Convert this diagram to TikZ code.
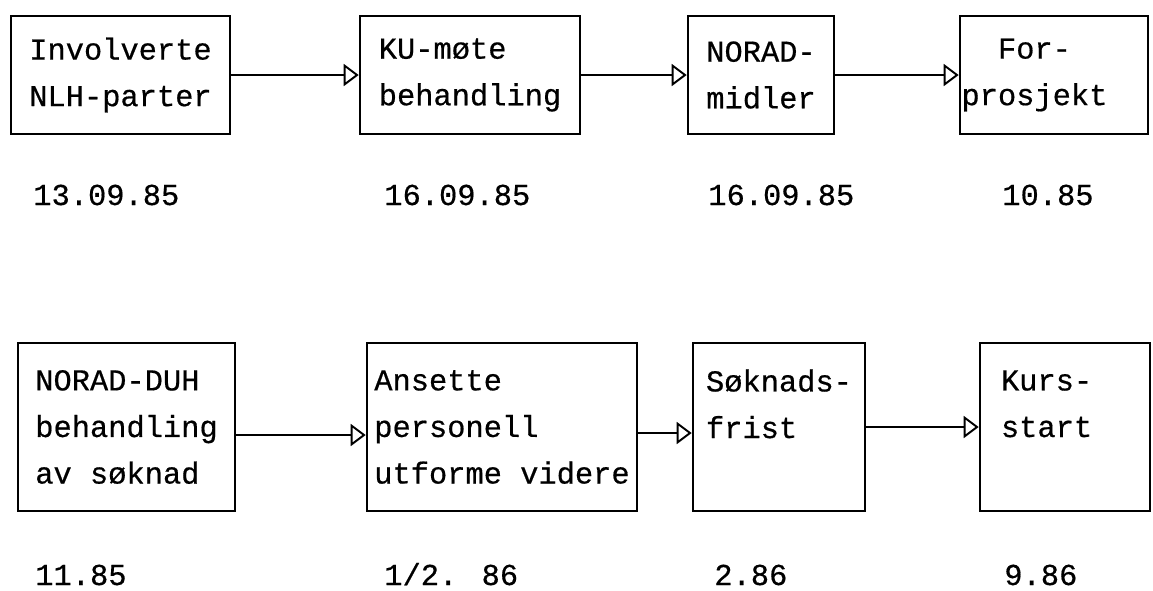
\documentclass[tikz,border=0pt]{standalone}
\usepackage{fontspec}
\newfontfamily\typer{Liberation Mono}[FakeBold=0.5]
\usepackage{tikz}
\usetikzlibrary{arrows.meta}

\begin{document}
\begin{tikzpicture}[
		planbox/.style={shape=rectangle,draw=black,line width=1.5pt,inner sep=0pt,align=left,font=\typer\fontsize{17.3}{26.5}\selectfont},
		datetext/.style={anchor=base west,inner sep=0pt,font=\typer\fontsize{17.3}{26.5}\selectfont},
		flow/.style={line width=1pt,-{Triangle[open,length=0.3cm,width=0.44cm,line width=1.1pt]}}]
		\useasboundingbox (0,0) rectangle (23.06,-11.8);
		% first row
		\node [planbox,minimum width=4.38cm,minimum height=2.36cm] (A1) at (2.41,-1.5) {Involverte\\NLH-parter};
		\node [planbox,minimum width=4.4cm,minimum height=2.36cm] (A2) at (9.4,-1.5) {KU-møte\\behandling};
		\node [planbox,minimum width=2.92cm,minimum height=2.36cm] (A3) at (15.22,-1.5) {NORAD-\\midler};
		\node [planbox,minimum width=3.76cm,minimum height=2.36cm,text width=3.7cm] (A4) at (21.08,-1.5) {\phantom{pr}For-\\prosjekt};
		\draw [flow] (A1) -- (A2);
		\draw [flow] (A2) -- (A3);
		\draw [flow] (A3) -- (A4);
		\node [datetext] (D1) at (0.66,-4.1) {13.09.85};
		\node [datetext] (D2) at (7.68,-4.1) {16.09.85};
		\node [datetext] (D3) at (14.16,-4.1) {16.09.85};
		\node [datetext] (D4) at (20.04,-4.1) {10.85};
		% second row
		\node [planbox,minimum width=4.34cm,minimum height=3.36cm] (B1) at (2.53,-8.54) {NORAD-DUH\\behandling\\av søknad};
		\node [planbox,minimum width=5.4cm,minimum height=3.36cm] (B2) at (10.04,-8.54) {Ansette\\personell\\utforme videre};
		\node [planbox,minimum width=3.44cm,minimum height=3.36cm] (B3) at (15.58,-8.54) {Søknads-\\frist\\\mbox{}};
		\node [planbox,minimum width=3.4cm,minimum height=3.36cm,text width=2.56cm] (B4) at (21.3,-8.54) {Kurs-\\start\\\mbox{}};
		\draw [flow] ([yshift=-0.16cm]B1.east) -- ([yshift=-0.16cm]B2.west);
		\draw [flow] ([yshift=-0.12cm]B2.east) -- ([yshift=-0.12cm]B3.west);
		\draw [flow] (B3) -- (B4);
		\node [datetext] (E1) at (0.7,-11.7) {11.85};
		\node [datetext] (E2) at (7.68,-11.7) {1/2. 86};
		\node [datetext] (E3) at (14.28,-11.7) {2.86};
		\node [datetext] (E4) at (20.08,-11.7) {9.86};
\end{tikzpicture}
\end{document}
